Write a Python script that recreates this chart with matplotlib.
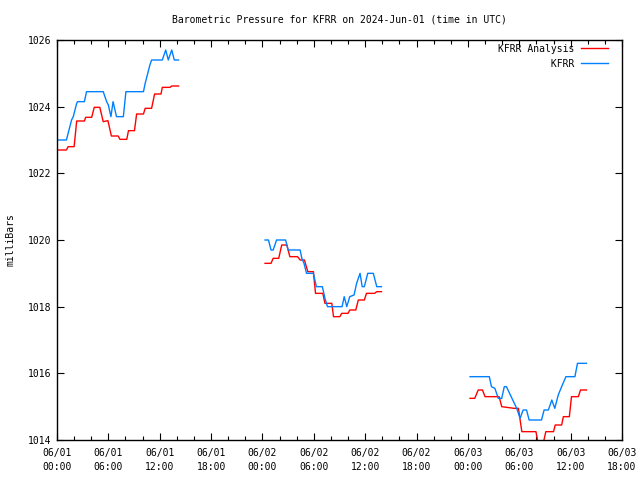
import matplotlib
matplotlib.use("Agg")
import matplotlib.pyplot as plt
from matplotlib.ticker import MultipleLocator, FixedLocator
import numpy as np

# ---- data (hours since 2024-06-01 00:00 UTC, pressure in mb) ----
obs_t1 = [0.1, 1.1, 1.3, 1.5, 1.7, 1.9, 2.1, 2.3, 2.4, 3.2, 3.45, 5.4, 5.8, 6.0, 6.3, 6.55,
          6.95, 7.75, 8.05, 10.1, 10.3, 10.6, 10.85, 11.05, 12.3, 12.7, 13.0, 13.4, 13.7, 14.2]
obs_p1 = [1023.0, 1023.0, 1023.2, 1023.4, 1023.6, 1023.7, 1023.9, 1024.1, 1024.15, 1024.15,
          1024.45, 1024.45, 1024.15, 1024.05, 1023.7, 1024.15, 1023.7, 1023.7, 1024.45, 1024.45,
          1024.7, 1025.0, 1025.25, 1025.4, 1025.4, 1025.7, 1025.4, 1025.7, 1025.4, 1025.4]
obs_t2 = [24.3, 24.7, 25.0, 25.25, 25.65, 26.7, 27.0, 28.4, 28.6, 28.85, 29.15, 29.95, 30.3,
          31.0, 31.3, 31.6, 33.3, 33.55, 33.85, 34.2, 34.7, 35.0, 35.4, 35.65, 35.9, 36.3,
          36.95, 37.35, 37.9]
obs_p2 = [1020.0, 1020.0, 1019.7, 1019.7, 1020.0, 1020.0, 1019.7, 1019.7, 1019.45, 1019.3,
          1019.0, 1019.0, 1018.6, 1018.6, 1018.25, 1018.0, 1018.0, 1018.3, 1018.0, 1018.3,
          1018.35, 1018.7, 1019.0, 1018.6, 1018.6, 1019.0, 1019.0, 1018.6, 1018.6]
obs_t3 = [48.25, 50.5, 50.75, 51.15, 51.55, 51.95, 52.25, 52.5, 53.7, 54.1, 54.45, 54.85,
          55.15, 56.6, 56.9, 57.4, 57.8, 58.15, 58.55, 58.95, 59.45, 60.5, 60.8, 61.85]
obs_p3 = [1015.9, 1015.9, 1015.6, 1015.55, 1015.25, 1015.25, 1015.6, 1015.6, 1014.95, 1014.65,
          1014.9, 1014.9, 1014.6, 1014.6, 1014.9, 1014.9, 1015.2, 1014.95, 1015.35, 1015.6,
          1015.9, 1015.9, 1016.3, 1016.3]

ana_t1 = [0.1, 1.1, 1.3, 2.0, 2.3, 3.2, 3.35, 4.05, 4.35, 5.0, 5.4, 5.95, 6.35, 7.15, 7.35,
          8.15, 8.35, 9.05, 9.3, 10.1, 10.3, 11.05, 11.4, 12.15, 12.3, 13.2, 13.4, 14.2]
ana_p1 = [1022.7, 1022.7, 1022.8, 1022.8, 1023.57, 1023.57, 1023.68, 1023.68, 1023.98, 1023.98,
          1023.55, 1023.58, 1023.12, 1023.12, 1023.02, 1023.02, 1023.28, 1023.28, 1023.78,
          1023.78, 1023.95, 1023.95, 1024.38, 1024.38, 1024.58, 1024.58, 1024.62, 1024.62]
ana_t2 = [24.3, 25.0, 25.25, 25.9, 26.25, 26.85, 27.2, 28.1, 28.4, 28.9, 29.3, 29.95, 30.2,
          31.05, 31.3, 32.1, 32.3, 33.05, 33.25, 34.0, 34.2, 34.9, 35.2, 35.9, 36.15, 37.1,
          37.35, 37.9]
ana_p2 = [1019.3, 1019.3, 1019.45, 1019.45, 1019.85, 1019.85, 1019.5, 1019.5, 1019.4, 1019.4,
          1019.05, 1019.05, 1018.4, 1018.4, 1018.1, 1018.1, 1017.7, 1017.7, 1017.8, 1017.8,
          1017.9, 1017.9, 1018.2, 1018.2, 1018.4, 1018.4, 1018.45, 1018.45]
ana_t3 = [48.25, 48.8, 49.2, 49.7, 50.0, 51.65, 51.95, 53.4, 53.9, 54.1, 54.3, 55.95, 56.2,
          56.8, 57.1, 58.0, 58.2, 58.95, 59.15, 59.85, 60.1, 60.9, 61.15, 61.85]
ana_p3 = [1015.25, 1015.25, 1015.5, 1015.5, 1015.3, 1015.3, 1015.0, 1014.95, 1014.95, 1014.6,
          1014.25, 1014.25, 1013.9, 1013.9, 1014.25, 1014.25, 1014.45, 1014.45, 1014.7, 1014.7,
          1015.3, 1015.3, 1015.5, 1015.5]

xtick_hours = [0, 6, 12, 18, 24, 30, 36, 42, 48, 54, 60, 66]
xtick_labels = ["06/01\n00:00", "06/01\n06:00", "06/01\n12:00", "06/01\n18:00",
                "06/02\n00:00", "06/02\n06:00", "06/02\n12:00", "06/02\n18:00",
                "06/03\n00:00", "06/03\n06:00", "06/03\n12:00", "06/03\n18:00"]
yticks = [1014, 1016, 1018, 1020, 1022, 1024, 1026]

RED = "#ff0000"
BLUE = "#0080ff"
FONT = "DejaVu Sans Mono"

plt.rcParams['font.family'] = [FONT]
plt.rcParams['font.size'] = 7

fig = plt.figure(figsize=(6.4, 4.8), dpi=100)
ax = fig.add_axes([57/640, 40/480, (622-57)/640, (440-40)/480])

for i, (t, p) in enumerate([(ana_t1, ana_p1), (ana_t2, ana_p2), (ana_t3, ana_p3)]):
    ax.plot(t, p, color=RED, lw=1.0, label="KFRR Analysis" if i == 0 else None)
for i, (t, p) in enumerate([(obs_t1, obs_p1), (obs_t2, obs_p2), (obs_t3, obs_p3)]):
    ax.plot(t, p, color=BLUE, lw=1.0, label="         KFRR" if i == 0 else None)

ax.set_xlim(0, 66)
ax.set_ylim(1014, 1026)
ax.xaxis.set_major_locator(FixedLocator(xtick_hours))
ax.set_xticklabels(xtick_labels, linespacing=1.5)
ax.xaxis.set_minor_locator(MultipleLocator(2))
ax.set_yticks(yticks)
ax.set_yticklabels([str(v) for v in yticks])
ax.tick_params(which='both', direction='in', top=True, right=True, width=0.8, color='black')
ax.tick_params(which='major', length=5)
ax.tick_params(which='minor', length=3)
ax.tick_params(axis='x', pad=6)
ax.tick_params(axis='y', pad=4)
for s in ax.spines.values():
    s.set_linewidth(1.0)

ax.set_title("Barometric Pressure for KFRR on 2024-Jun-01 (time in UTC)", fontsize=7, pad=12.8)
ax.set_ylabel("milliBars", fontsize=7, labelpad=9)

leg = ax.legend(loc='upper right', bbox_to_anchor=(0.985, 1.005), frameon=False, markerfirst=False,
                handlelength=2.75, handletextpad=0.7, labelspacing=0.5, borderaxespad=0.2,
                fontsize=7)

fig.savefig("out.png", dpi=100)
